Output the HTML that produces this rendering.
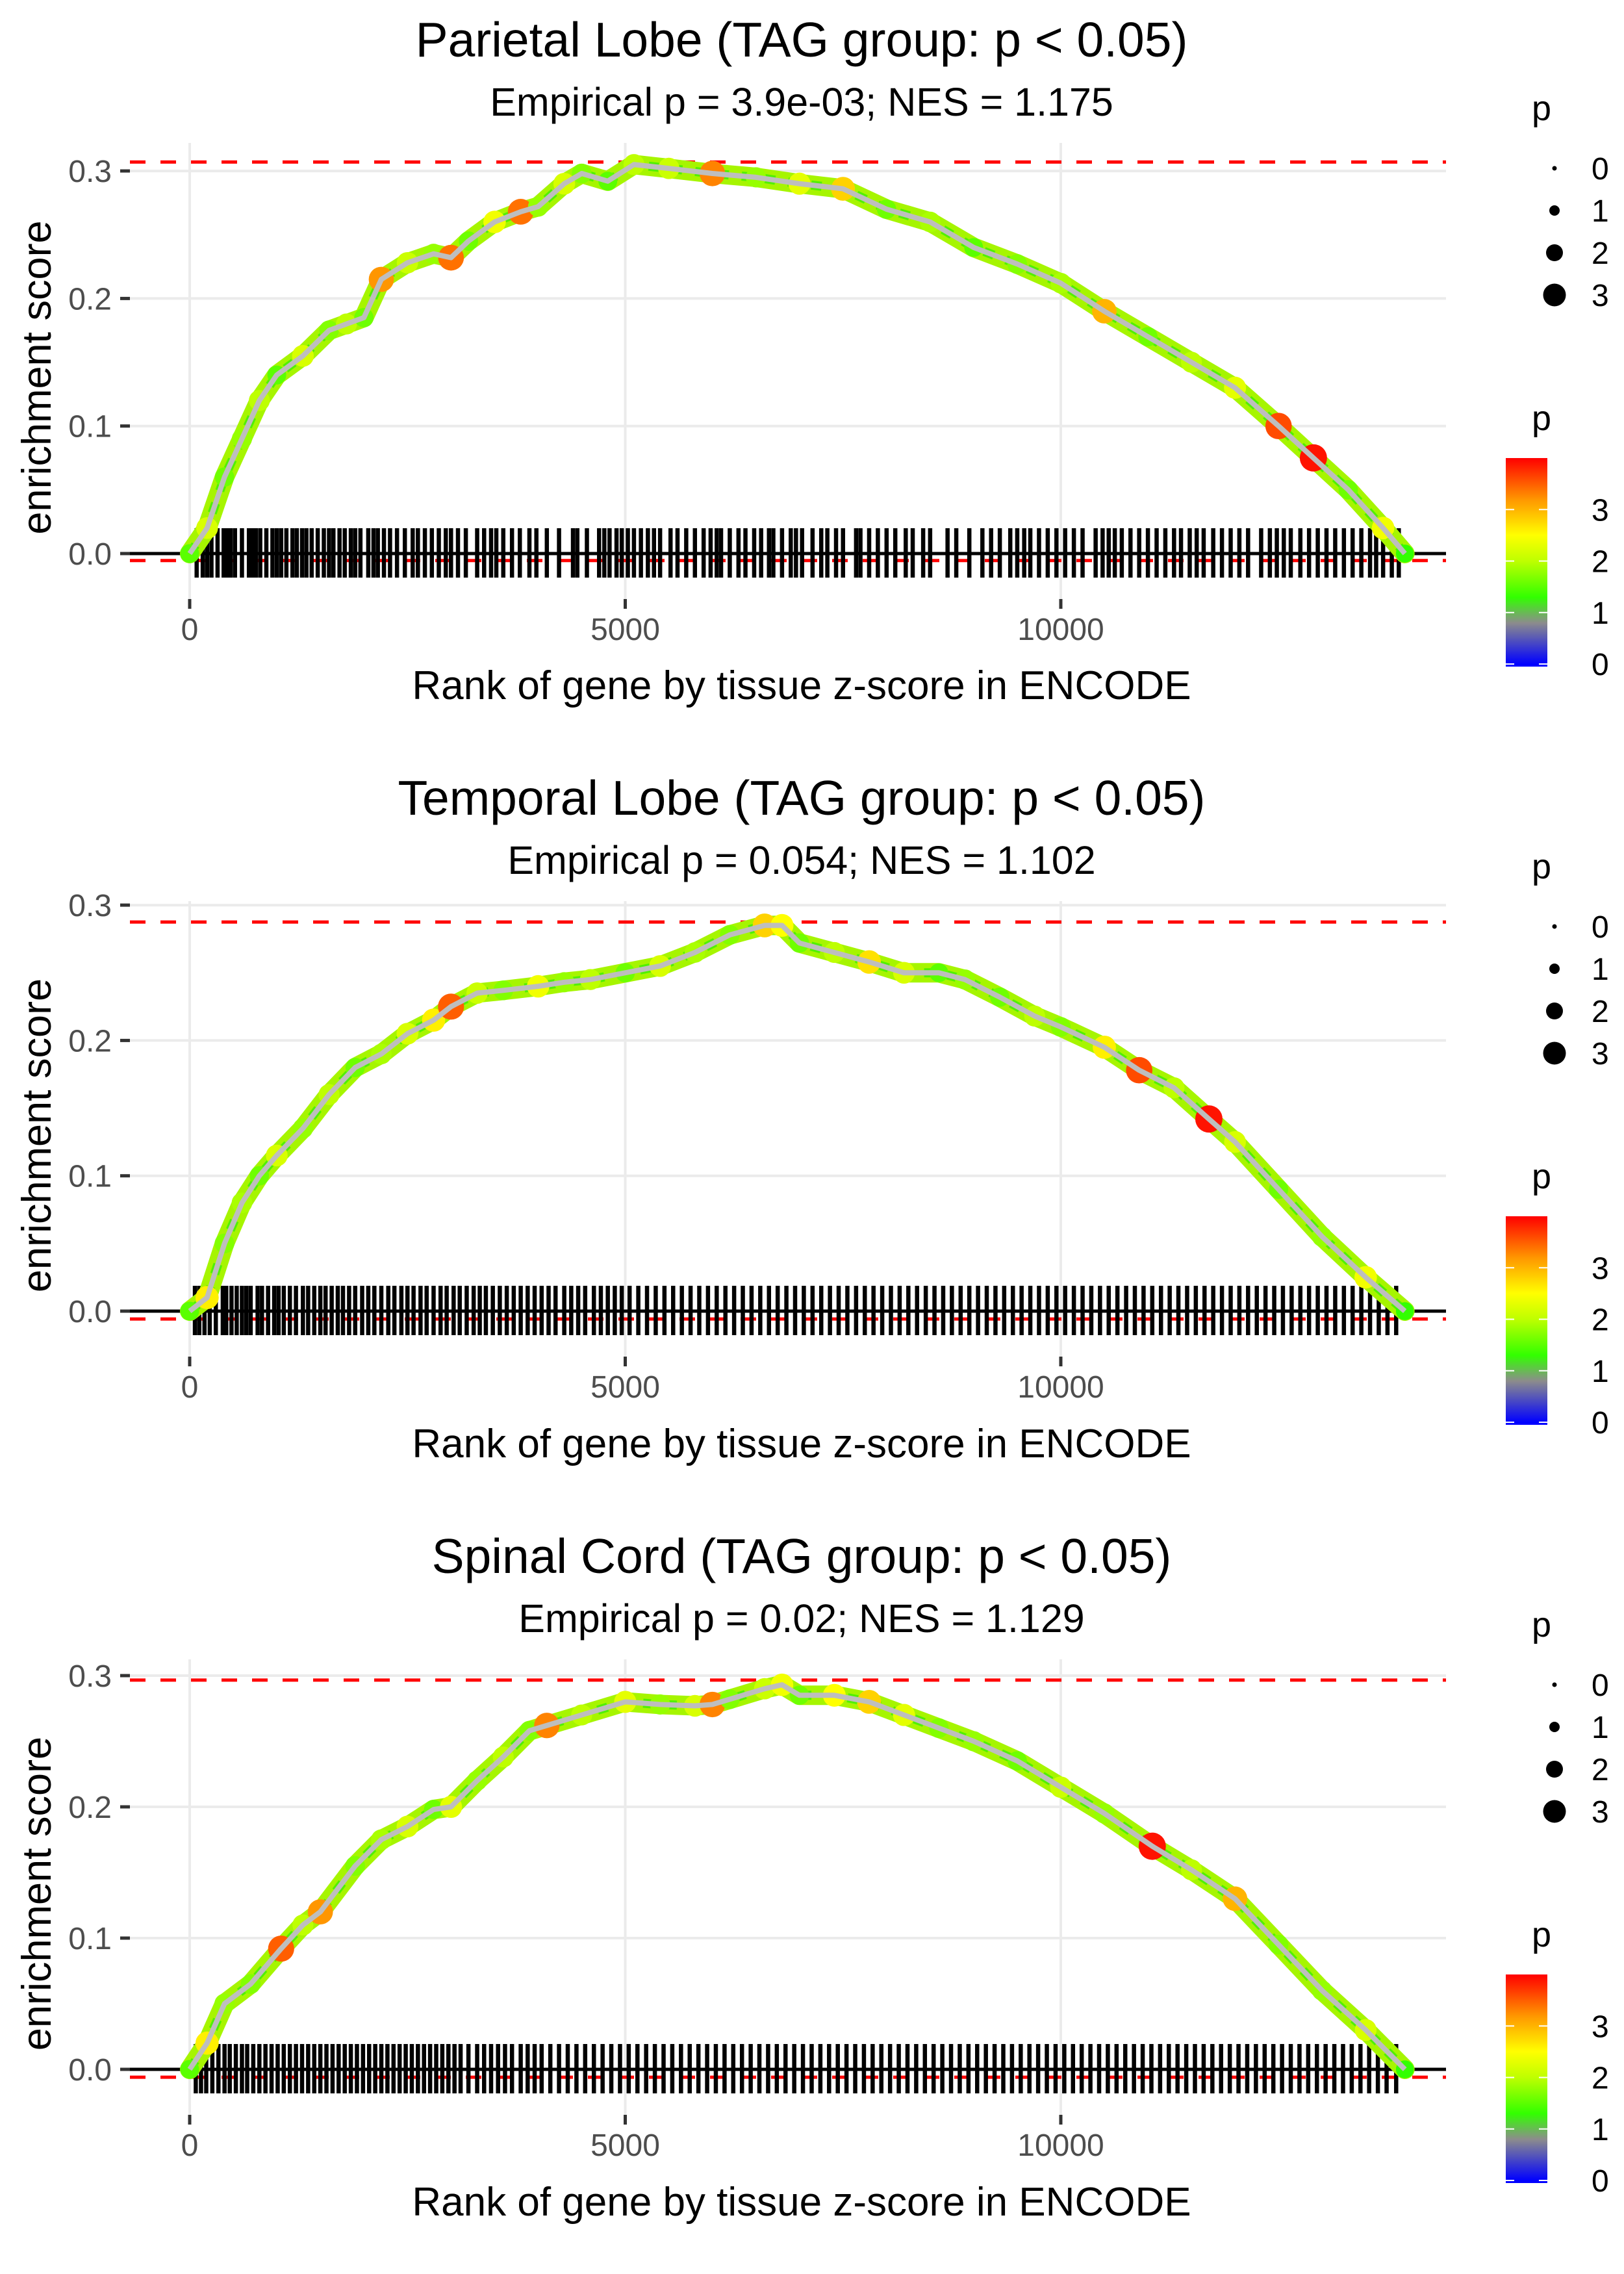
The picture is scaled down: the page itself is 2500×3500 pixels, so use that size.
<!DOCTYPE html>
<html><head><meta charset="utf-8">
<style>
html,body{margin:0;padding:0;background:#fff;}
svg{display:block;font-family:"Liberation Sans",sans-serif;}
</style></head>
<body>
<svg id="chart" xmlns="http://www.w3.org/2000/svg" width="2500" height="3500" viewBox="0 0 2500 3500"></svg>
<script>
// ---------- data ----------
const titles = ["Parietal Lobe (TAG group: p < 0.05)","Temporal Lobe (TAG group: p < 0.05)","Spinal Cord (TAG group: p < 0.05)"];
const subtitles = ["Empirical p = 3.9e-03; NES = 1.175","Empirical p = 0.054; NES = 1.102","Empirical p = 0.02; NES = 1.129"];
const xTicks = [0,5000,10000];
const yTicks = [0.0,0.1,0.2,0.3];
const yTickLabels = ["0.0","0.1","0.2","0.3"];
const maxES = [0.307,0.2875,0.2966];
const minES = [-0.0055,-0.0058,-0.006];

const rank1 = [0,200,400,600,800,1000,1300,1600,1800,2000,2200,2500,2800,3000,3200,3500,3800,4000,4300,4500,4800,5100,5500,6000,6500,7000,7500,8000,8500,9000,9500,10000,10500,11000,11500,12000,12500,12900,13300,13700,13950];
const es1 = [0,0.02,0.06,0.09,0.12,0.14,0.155,0.175,0.18,0.185,0.215,0.228,0.235,0.232,0.245,0.26,0.268,0.272,0.29,0.298,0.292,0.305,0.302,0.298,0.295,0.29,0.286,0.27,0.26,0.24,0.227,0.212,0.19,0.17,0.15,0.13,0.1,0.075,0.05,0.02,0];
const p1 = [1.5,2.2,1.6,1.8,2.0,1.5,2.2,1.7,2.0,1.6,3.2,2.1,1.8,3.4,1.6,2.4,3.4,1.8,2.2,1.7,1.5,2.0,2.1,3.3,1.8,2.3,2.8,1.6,1.9,1.5,1.7,1.9,3.0,1.6,2.0,2.3,3.6,3.9,1.6,2.4,1.3];

const rank2 = [0,200,400,600,800,1000,1300,1600,1900,2200,2500,2800,3000,3300,3600,4000,4300,4600,5000,5400,5800,6200,6600,6800,7000,7400,7800,8200,8600,8900,9300,9700,10000,10500,10900,11300,11700,12000,12500,13000,13500,13950];
const es2 = [0,0.01,0.05,0.08,0.1,0.115,0.135,0.16,0.18,0.19,0.205,0.215,0.225,0.235,0.237,0.24,0.243,0.245,0.25,0.255,0.265,0.278,0.285,0.285,0.272,0.265,0.258,0.25,0.25,0.245,0.232,0.218,0.21,0.195,0.178,0.165,0.142,0.125,0.09,0.055,0.025,0];
const p2 = [1.5,2.6,1.7,1.9,1.6,2.2,1.8,2.0,1.6,1.9,2.2,2.6,3.5,2.1,1.7,2.4,1.8,2.0,1.6,2.2,1.9,1.7,2.8,2.5,1.6,2.0,2.7,2.2,1.5,1.8,1.6,2.0,1.7,2.6,3.6,2.0,3.9,2.2,1.6,1.8,2.4,1.3];

const rank3 = [0,200,400,700,1050,1300,1500,1900,2200,2500,2800,3000,3300,3600,3900,4100,4500,5000,5400,5800,6000,6200,6600,6800,7000,7400,7800,8200,8600,9000,9500,10000,10500,11050,11500,12000,12500,13000,13500,13950];
const es3 = [0,0.02,0.05,0.065,0.092,0.11,0.12,0.155,0.175,0.185,0.198,0.2,0.22,0.238,0.258,0.262,0.27,0.28,0.278,0.277,0.278,0.282,0.29,0.293,0.285,0.285,0.28,0.27,0.26,0.25,0.235,0.215,0.195,0.17,0.152,0.13,0.095,0.06,0.03,0];
const p3 = [1.5,2.6,1.8,1.7,3.5,2.0,3.2,1.7,1.9,2.2,1.6,2.3,1.8,2.0,1.7,3.3,2.0,2.3,1.8,2.2,3.3,1.7,2.1,2.4,1.6,2.5,2.8,2.3,1.7,1.8,1.6,2.1,1.8,3.9,2.0,3.0,1.7,1.8,2.2,1.3];

const hits1 = [80,150,200,250,320,390,430,470,520,600,680,720,760,810,880,950,1000,1050,1110,1180,1230,1290,1340,1400,1470,1540,1600,1650,1720,1780,1850,1900,1960,2050,2110,2160,2230,2300,2380,2470,2560,2620,2700,2780,2860,2940,3000,3080,3170,3300,3380,3460,3520,3600,3700,3790,3900,3980,4100,4240,4400,4450,4560,4700,4760,4820,4900,4960,5030,5100,5180,5260,5330,5400,5520,5600,5700,5800,5900,5980,6050,6100,6200,6300,6380,6480,6560,6650,6700,6800,6900,6960,7030,7150,7250,7320,7420,7500,7650,7700,7800,7900,8000,8100,8220,8300,8420,8500,8700,8800,8950,9100,9200,9300,9420,9500,9580,9650,9750,9850,9950,10050,10150,10250,10400,10480,10550,10620,10700,10800,10900,11000,11100,11200,11300,11380,11480,11560,11640,11750,11850,11950,12050,12150,12300,12400,12480,12560,12640,12750,12850,12950,13050,13150,13250,13350,13450,13550,13620,13700,13800,13880];
const hits2 = [60,110,170,230,300,380,420,480,540,600,650,700,780,830,900,970,1020,1080,1150,1220,1300,1360,1430,1500,1560,1630,1700,1760,1830,1900,1980,2050,2120,2200,2280,2350,2430,2500,2570,2650,2720,2800,2880,2950,3030,3100,3180,3260,3330,3400,3480,3560,3640,3720,3800,3880,3960,4040,4120,4200,4300,4380,4460,4540,4640,4720,4800,4880,4960,5050,5150,5250,5350,5450,5550,5650,5750,5850,5950,6050,6150,6250,6350,6450,6550,6650,6750,6850,6950,7050,7150,7250,7350,7450,7550,7650,7750,7850,7950,8050,8150,8250,8350,8450,8550,8650,8750,8850,8950,9050,9150,9250,9350,9450,9550,9650,9750,9850,9950,10050,10150,10250,10350,10450,10550,10650,10750,10850,10950,11050,11150,11250,11350,11450,11550,11650,11750,11850,11950,12050,12150,12250,12350,12450,12550,12650,12750,12850,12950,13050,13150,13250,13350,13450,13550,13650,13750,13850];
const hits3 = [70,130,190,260,330,400,460,530,600,660,730,800,870,940,1010,1080,1150,1220,1290,1360,1430,1500,1570,1640,1710,1780,1850,1920,1990,2060,2130,2200,2270,2340,2410,2480,2550,2620,2690,2760,2830,2900,2970,3040,3110,3200,3300,3380,3460,3540,3620,3700,3800,3880,3960,4040,4140,4240,4340,4440,4540,4640,4740,4840,4940,5040,5140,5240,5340,5440,5540,5640,5740,5840,5940,6040,6140,6240,6340,6440,6540,6640,6740,6840,6940,7040,7140,7240,7340,7440,7540,7640,7740,7840,7940,8040,8140,8240,8340,8440,8540,8640,8740,8840,8940,9040,9140,9240,9340,9440,9540,9640,9740,9840,9940,10040,10140,10240,10340,10440,10540,10640,10740,10840,10940,11040,11140,11240,11340,11440,11540,11640,11740,11840,11940,12040,12140,12240,12340,12440,12540,12640,12740,12840,12940,13040,13140,13240,13340,13440,13540,13640,13740,13850];

const legendSizes = [0,1,2,3];
const barLabels = [0,1,2,3];

// ---------- layout ----------
const NS = "http://www.w3.org/2000/svg";
const svg = document.getElementById("chart");
function mk(tag, attrs, parent){const e=document.createElementNS(NS,tag);for(const k in attrs)e.setAttribute(k,attrs[k]);(parent||svg).appendChild(e);return e;}

const panels = [
  {off:0,    y0:852,  k:1963, top:220,  bot:922,  rank:rank1, es:es1, p:p1, hits:hits1},
  {off:1167, y0:2018, k:2083, top:1387, bot:2088, rank:rank2, es:es2, p:p2, hits:hits2},
  {off:2334, y0:3185, k:2020, top:2554, bot:3255, rank:rank3, es:es3, p:p3, hits:hits3}
];
const XL=200, XR=2226;
function xScale(r){return 292 + r*0.1341;}

const stops=[[0,[0,0,255]],[0.8,[140,140,140]],[1.3,[50,255,0]],[2.0,[190,255,0]],[2.5,[255,255,0]],[3.2,[255,150,0]],[4,[255,0,0]]];
function pColor(v){
  if(v<=stops[0][0])return "rgb(0,0,255)";
  for(let i=1;i<stops.length;i++){if(v<=stops[i][0]){const a=stops[i-1],b=stops[i];const t=(v-a[0])/(b[0]-a[0]);const c=a[1].map((x,j)=>Math.round(x+(b[1][j]-x)*t));return `rgb(${c[0]},${c[1]},${c[2]})`;}}
  return "rgb(255,0,0)";
}
function pRadius(v){return 4+Math.sqrt(Math.max(v,0))*8.6;}

panels.forEach((P,pi)=>{
  const g = mk("g",{});
  
  
  const yS = v => P.y0 - v*P.k;
  yTicks.forEach(t=>{const l=mk("line",{x1:XL,x2:XR,y1:yS(t),y2:yS(t),stroke:"#ebebeb","stroke-width":4},g);
    
    });
  xTicks.forEach(t=>{const l=mk("line",{x1:xScale(t),x2:xScale(t),y1:P.top,y2:P.bot,stroke:"#ebebeb","stroke-width":4},g);
    
    });
  yTicks.forEach((t,i)=>{
    const tk=mk("line",{x1:185,x2:200,y1:yS(t),y2:yS(t),stroke:"#333","stroke-width":5},g);
    
    
    const tx=mk("text",{x:172,y:yS(t)+17,"text-anchor":"end","font-size":48,fill:"#4d4d4d"},g);
    tx.textContent=yTickLabels[i];
    
    
  });
  xTicks.forEach(t=>{
    const tk=mk("line",{x1:xScale(t),x2:xScale(t),y1:P.bot,y2:P.bot+15,stroke:"#333","stroke-width":5},g);
    
    
    const tx=mk("text",{x:xScale(t),y:P.bot+63,"text-anchor":"middle","font-size":48,fill:"#4d4d4d"},g);
    tx.textContent=String(t);
    
    
  });
  [maxES[pi],minES[pi]].forEach((v,i)=>{
    const l=mk("line",{x1:XL,x2:XR,y1:yS(v),y2:yS(v),stroke:"#ff0000","stroke-width":5,"stroke-dasharray":"24 23"},g);
    
    
  });
  const rug=mk("g",{},g);
  
  
  P.hits.forEach(h=>{
    const l=mk("line",{x1:xScale(h),x2:xScale(h),y1:P.y0-39,y2:P.y0+37,stroke:"#000","stroke-width":6.5},rug);
    
    
  });
  const z=mk("line",{x1:XL,x2:XR,y1:yS(0),y2:yS(0),stroke:"#000","stroke-width":5},g);
  
  
  const pts = P.rank.map((r,i)=>xScale(r)+","+yS(P.es[i])).join(" ");
  const band=mk("polyline",{points:pts,fill:"none",stroke:"#a6f500","stroke-width":30,"stroke-linejoin":"round","stroke-linecap":"round"},g);
  
  
  const band2=mk("polyline",{points:pts,fill:"none",stroke:"#50f000","stroke-width":14,"stroke-linejoin":"round","stroke-dasharray":"16 20"},g);
  
  
  P.rank.forEach((r,i)=>{
    const c=mk("circle",{cx:xScale(r),cy:yS(P.es[i]),r:pRadius(P.p[i]),fill:pColor(P.p[i])},g);
    
    
  });
  const line=mk("polyline",{points:pts,fill:"none",stroke:"#bebebe","stroke-width":8,"stroke-linejoin":"round"},g);
  
  
  const t1=mk("text",{x:1234,y:P.off+87,"text-anchor":"middle","font-size":75,fill:"#000"},g);
  t1.textContent=titles[pi];
  
  
  const t2=mk("text",{x:1234,y:P.off+178,"text-anchor":"middle","font-size":61,fill:"#000"},g);
  t2.textContent=subtitles[pi];
  
  
  const xt=mk("text",{x:1234,y:P.off+1076,"text-anchor":"middle","font-size":62,fill:"#000"},g);
  xt.textContent="Rank of gene by tissue z-score in ENCODE";
  
  
  const yc=(P.top+P.bot)/2+10;
  const yt=mk("text",{x:0,y:0,"text-anchor":"middle","font-size":63,fill:"#000",transform:`translate(78,${yc}) rotate(-90)`},g);
  yt.textContent="enrichment score";
  
  
  const lg=mk("g",{},g);
  
  
  const lt=mk("text",{x:2358,y:P.off+185,"font-size":54,fill:"#000"},lg);
  lt.textContent="p";
  
  
  legendSizes.forEach((s,i)=>{
    const cy=P.off+259+i*65;
    const c=mk("circle",{cx:2393,cy:cy,r:[3.5,8,13,17.5][i],fill:"#000"},lg);
    
    
    const tx=mk("text",{x:2450,y:cy+17,"font-size":48,fill:"#000"},lg);
    tx.textContent=String(s);
    
    
  });
  const cb=mk("g",{},g);
  
  
  const ct=mk("text",{x:2358,y:P.off+662,"font-size":54,fill:"#000"},cb);
  ct.textContent="p";
  
  
  const barTop=P.off+705, barBot=P.off+1026, vmax=4.0, vmin=-0.05;
  const gid="grad"+pi;
  const defs=mk("defs",{},cb);
  const lgd=mk("linearGradient",{id:gid,x1:0,y1:1,x2:0,y2:0},defs);
  stops.forEach(s=>{mk("stop",{offset:((s[0]-vmin)/(vmax-vmin)).toFixed(3),"stop-color":pColor(s[0])},lgd);});
  const rect=mk("rect",{x:2318,y:barTop,width:64,height:barBot-barTop,fill:`url(#${gid})`},cb);
  
  
  barLabels.forEach(v=>{
    const yy=barBot-(v-vmin)/(vmax-vmin)*(barBot-barTop);
    [[2318,2331],[2369,2382]].forEach(xx=>{
      const l=mk("line",{x1:xx[0],x2:xx[1],y1:yy,y2:yy,stroke:"#fff","stroke-width":2},cb);
      
      
    });
    const tx=mk("text",{x:2450,y:yy+17,"font-size":48,fill:"#000"},cb);
    tx.textContent=String(v);
    
    
  });
});
</script>
</body></html>
